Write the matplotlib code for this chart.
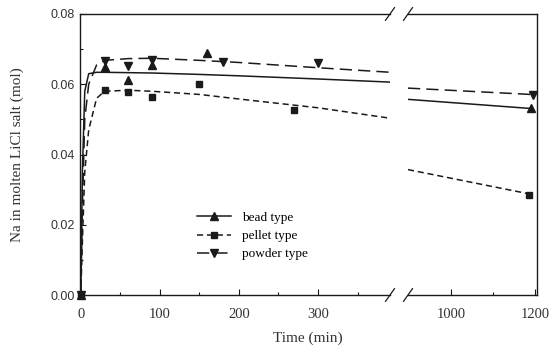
import matplotlib
matplotlib.use("Agg")
import matplotlib.pyplot as plt
from matplotlib.ticker import FixedLocator, FormatStrFormatter

# ---- data ----
bead_t = [0, 30, 60, 90, 160, 1190]
bead_y = [0.0, 0.0649, 0.0612, 0.0656, 0.0688, 0.0532]
pellet_t = [0, 30, 60, 90, 150, 270, 1185]
pellet_y = [0.0, 0.0583, 0.0577, 0.0563, 0.0600, 0.0528, 0.0285]
powder_t = [0, 30, 60, 90, 180, 300, 1195]
powder_y = [0.0, 0.0666, 0.0652, 0.0669, 0.0663, 0.0660, 0.0568]

# fitted curves
fit_t_left = [0, 2, 5, 10, 20, 30, 60, 90, 150, 200, 300, 392]
bead_fit_left = [0.0, 0.035, 0.058, 0.0630, 0.0634, 0.0634, 0.0633, 0.0632, 0.0628, 0.0624, 0.0615, 0.0606]
powder_fit_left = [0.0, 0.025, 0.050, 0.060, 0.0655, 0.0668, 0.0673, 0.0674, 0.0668, 0.0662, 0.0647, 0.0634]
pellet_fit_left = [0.0, 0.015, 0.035, 0.047, 0.056, 0.0580, 0.0583, 0.0580, 0.0571, 0.0558, 0.0533, 0.0503]
fit_t_right = [898, 1190]
bead_fit_right = [0.0557, 0.0531]
powder_fit_right = [0.0589, 0.0571]
pellet_fit_right = [0.0357, 0.0287]

legend_labels = ["bead type", "pellet type", "powder type"]

W, H = 560, 353
fig = plt.figure(figsize=(W / 100, H / 100), dpi=100)
bottom = (H - 295) / H
height = (295 - 14) / H
axL = fig.add_axes([80 / W, bottom, (390 - 80) / W, height])
axR = fig.add_axes([408 / W, bottom, (537 - 408) / W, height])

col = "#1a1a1a"
serif = "Liberation Serif"
sans = "Liberation Sans"

short_dash = (0, (4, 2.5))
long_dash = (0, (8, 4))

LIM_L = (-1, 391)
LIM_R = (898, 1205)


def sel(ts, ys, lim):
    pts = [(t, y) for t, y in zip(ts, ys) if lim[0] - 5 <= t <= lim[1]]
    return [p[0] for p in pts], [p[1] for p in pts]


for ax, lim, ft, bf, pf, wf in [
    (axL, LIM_L, fit_t_left, bead_fit_left, pellet_fit_left, powder_fit_left),
    (axR, LIM_R, fit_t_right, bead_fit_right, pellet_fit_right, powder_fit_right),
]:
    ax.plot(ft, bf, color=col, lw=1.1, ls="-")
    ax.plot(ft, pf, color=col, lw=1.1, ls=short_dash)
    ax.plot(ft, wf, color=col, lw=1.1, ls=long_dash)
    ax.plot(*sel(bead_t, bead_y, lim), ls="none", marker="^", ms=5.5, color=col, clip_on=False)
    ax.plot(*sel(pellet_t, pellet_y, lim), ls="none", marker="s", ms=5, color=col, clip_on=False)
    ax.plot(*sel(powder_t, powder_y, lim), ls="none", marker="v", ms=5.5, color=col, clip_on=False)
    ax.set_xlim(*lim)
    ax.set_ylim(0, 0.08)
    ax.tick_params(which="both", direction="in", color=col, width=0.8)
    ax.tick_params(which="major", length=4)
    ax.tick_params(which="minor", length=2.5)
    for s in ax.spines.values():
        s.set_color(col)
        s.set_linewidth(1.0)

axL.xaxis.set_major_locator(FixedLocator([0, 100, 200, 300]))
axL.xaxis.set_minor_locator(FixedLocator([50, 150, 250, 350]))
axL.yaxis.set_major_locator(FixedLocator([0.0, 0.02, 0.04, 0.06, 0.08]))
axL.yaxis.set_minor_locator(FixedLocator([0.01, 0.03, 0.05, 0.07]))
axL.yaxis.set_major_formatter(FormatStrFormatter("%.2f"))
axL.spines["right"].set_visible(False)
for lab in axL.get_yticklabels():
    lab.set_family(sans)
    lab.set_fontsize(9)
    lab.set_color("#333333")
for lab in axL.get_xticklabels():
    lab.set_family(serif)
    lab.set_fontsize(10.5)
    lab.set_color("#333333")

axR.xaxis.set_major_locator(FixedLocator([1000, 1200]))
axR.xaxis.set_minor_locator(FixedLocator([1100]))
for lab in axR.get_xticklabels():
    lab.set_family(serif)
    lab.set_fontsize(10.5)
    lab.set_color("#333333")
axR.spines["left"].set_visible(False)
axR.set_yticks([])
axR.set_yticks([], minor=True)

for ax in (axL, axR):
    ax.tick_params(axis="x", pad=9)

# break marks
for x0 in (390, 408):
    for y0 in (14, 295):
        xf = x0 / W
        yf = (H - y0) / H
        fig.add_artist(plt.Line2D([xf - 0.008, xf + 0.008], [yf - 0.018, yf + 0.018],
                                  transform=fig.transFigure, color=col, lw=0.9))

# legend
handles = [
    plt.Line2D([], [], color=col, ls="-", lw=1.1, marker="^", ms=5.5),
    plt.Line2D([], [], color=col, ls=short_dash, lw=1.1, marker="s", ms=5),
    plt.Line2D([], [], color=col, ls=long_dash, lw=1.1, marker="v", ms=5.5),
]
leg = axL.legend(handles, legend_labels, loc="upper left", bbox_to_anchor=(0.36, 0.315),
                 frameon=False, prop={"family": serif, "size": 9.5}, handlelength=2.6,
                 labelspacing=0.45, handletextpad=0.8, borderaxespad=0)

fig.text(308 / W, (H - 338) / H, "Time (min)", ha="center", va="center",
         family=serif, fontsize=11, color="#333333")
fig.text(17 / W, (H - 155) / H, "Na in molten LiCl salt (mol)", ha="center", va="center",
         rotation=90, family=serif, fontsize=11, color="#333333")

fig.savefig("out.png", dpi=100, facecolor="white")
